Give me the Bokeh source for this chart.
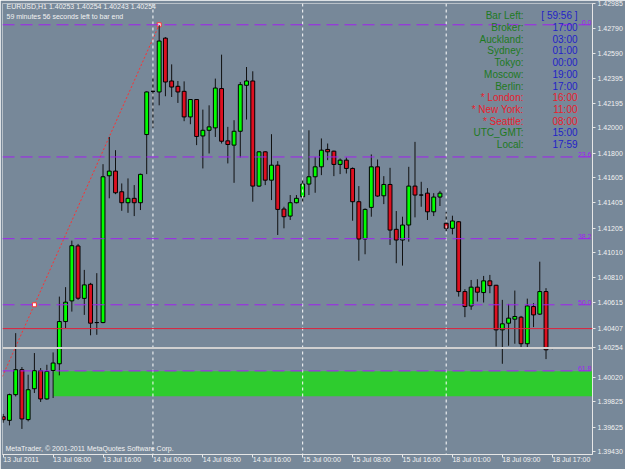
from bokeh.plotting import figure
from bokeh.models import FixedTicker, Label, Span, PrintfTickFormatter, ColumnDataSource
from bokeh.embed import file_html
from bokeh.resources import INLINE

# ---------------- data ----------------
bar_index = list(range(89))
opens = [1.39708, 1.39679, 1.39883, 1.40081, 1.39685, 1.39930, 1.40073, 1.39849, 1.40075, 1.40128,
         1.40463, 1.40627, 1.41063, 1.40647, 1.40759, 1.40455, 1.40455, 1.41620, 1.41657, 1.41493,
         1.41406, 1.41441, 1.41406, 1.41947, 1.42290, 1.42285, 1.42712, 1.42372, 1.42330, 1.42290,
         1.42087, 1.42225, 1.41936, 1.41981, 1.42000, 1.42312, 1.41897, 1.41863, 1.41973, 1.42338,
         1.42372, 1.41538, 1.41810, 1.41585, 1.41704, 1.41356, 1.41300, 1.41406, 1.41453, 1.41554,
         1.41612, 1.41691, 1.41829, 1.41815, 1.41710, 1.41744, 1.41678, 1.41414, 1.41118, 1.41369,
         1.41691, 1.41461, 1.41551, 1.41195, 1.41110, 1.41229, 1.41538, 1.41467, 1.41482, 1.41334,
         1.41451, 1.41243, 1.41203, 1.41255, 1.40701, 1.40587, 1.40736, 1.40693, 1.40786, 1.40751,
         1.40397, 1.40450, 1.40482, 1.40498, 1.40287, 1.40582, 1.40522, 1.40701, 1.40253]
highs = [1.39730, 1.39891, 1.40371, 1.40102, 1.40041, 1.40213, 1.40094, 1.40120, 1.40218, 1.40661,
         1.40736, 1.41105, 1.41079, 1.40873, 1.40770, 1.40847, 1.41712, 1.41928, 1.41823, 1.41559,
         1.41599, 1.41546, 1.41637, 1.42290, 1.42409, 1.42818, 1.42720, 1.42504, 1.42372, 1.42369,
         1.42227, 1.42227, 1.42145, 1.42179, 1.42391, 1.42581, 1.42008, 1.42061, 1.42364, 1.42483,
         1.42449, 1.41815, 1.41815, 1.41950, 1.41736, 1.41374, 1.41467, 1.41467, 1.41599, 1.41981,
         1.41770, 1.41916, 1.41876, 1.41819, 1.41757, 1.41765, 1.41686, 1.41538, 1.41361, 1.41789,
         1.41749, 1.41617, 1.41683, 1.41340, 1.41295, 1.41691, 1.41889, 1.41572, 1.41522, 1.41482,
         1.41500, 1.41332, 1.41303, 1.41261, 1.40720, 1.40793, 1.40799, 1.40825, 1.40833, 1.40754,
         1.40635, 1.40603, 1.40709, 1.40508, 1.40645, 1.40609, 1.40938, 1.40728, 1.40254]
lows = [1.39660, 1.39639, 1.39869, 1.39611, 1.39671, 1.39896, 1.39825, 1.39843, 1.39856, 1.40036,
        1.40411, 1.40542, 1.40635, 1.40516, 1.40354, 1.40358, 1.40450, 1.41441, 1.41474, 1.41342,
        1.41326, 1.41300, 1.41348, 1.41633, 1.42000, 1.42179, 1.42251, 1.42245, 1.42198, 1.42053,
        1.42029, 1.41863, 1.41678, 1.41797, 1.41928, 1.41876, 1.41718, 1.41564, 1.41765, 1.42066,
        1.41414, 1.41532, 1.41546, 1.41427, 1.41150, 1.41203, 1.41269, 1.41401, 1.41401, 1.41467,
        1.41485, 1.41625, 1.41744, 1.41617, 1.41633, 1.41638, 1.41263, 1.40946, 1.40997, 1.41295,
        1.41453, 1.41395, 1.41071, 1.40926, 1.40907, 1.41097, 1.41290, 1.41374, 1.41269, 1.41300,
        1.41380, 1.41181, 1.41155, 1.40661, 1.40498, 1.40556, 1.40622, 1.40614, 1.40688, 1.40265,
        1.40128, 1.40271, 1.40287, 1.40245, 1.40245, 1.40419, 1.40516, 1.40165, 1.40243]
closes = [1.39684, 1.39883, 1.40081, 1.39690, 1.39922, 1.40073, 1.39849, 1.40067, 1.40134, 1.40463,
          1.40617, 1.41065, 1.40648, 1.40754, 1.40450, 1.40455, 1.41612, 1.41657, 1.41485, 1.41406,
          1.41441, 1.41406, 1.41631, 1.42285, 1.42290, 1.42689, 1.42364, 1.42324, 1.42285, 1.42087,
          1.42225, 1.41932, 1.41981, 1.42008, 1.42316, 1.41894, 1.41868, 1.41973, 1.42343, 1.42372,
          1.41538, 1.41810, 1.41585, 1.41704, 1.41353, 1.41295, 1.41406, 1.41441, 1.41554, 1.41612,
          1.41691, 1.41823, 1.41810, 1.41710, 1.41744, 1.41678, 1.41414, 1.41118, 1.41353, 1.41691,
          1.41459, 1.41551, 1.41189, 1.41110, 1.41229, 1.41538, 1.41467, 1.41467, 1.41334, 1.41451,
          1.41482, 1.41203, 1.41261, 1.40701, 1.40582, 1.40736, 1.40696, 1.40786, 1.40748, 1.40397,
          1.40445, 1.40490, 1.40503, 1.40287, 1.40587, 1.40516, 1.40701, 1.40239, 1.40254]

x_tick_bars = [0, 8, 16, 24, 32, 40, 48, 56, 64, 72, 80, 88]
x_tick_labels = ["13 Jul 2011", "13 Jul 08:00", "13 Jul 16:00", "14 Jul 00:00", "14 Jul 08:00",
                 "14 Jul 16:00", "15 Jul 00:00", "15 Jul 08:00", "15 Jul 16:00", "18 Jul 01:00",
                 "18 Jul 09:00", "18 Jul 17:00"]
y_ticks = [1.42985, 1.42790, 1.42590, 1.42395, 1.42195, 1.42000, 1.41800, 1.41605, 1.41405,
           1.41205, 1.41010, 1.40810, 1.40615, 1.40407, 1.40254, 1.40020, 1.39825, 1.39625,
           1.39430]
day_separators = [24, 48, 71]

fib_levels = [0.0, 23.6, 38.2, 50.0, 61.8]
fib_high_bar, fib_high = 25, 1.42818
fib_low_bar, fib_low = -15, 1.38374

zone_start_bar = 8
zone_top, zone_bottom = 1.40068, 1.39870
red_line_price = 1.40407
bid_price = 1.40254

header_1 = "EURUSD,H1  1.40253 1.40254 1.40243 1.40254"
header_2 = "59 minutes 56 seconds left to bar end"
copyright_text = "MetaTrader, \u00a9 2001-2011 MetaQuotes Software Corp."

clock_names = ["Bar Left:", "Broker:", "Auckland:", "Sydney:", "Tokyo:", "Moscow:", "Berlin:",
               "* London:", "* New York:", "* Seattle:", "UTC_GMT:", "Local:"]
clock_values = ["[ 59:56 ]", "17:00", "03:00", "01:00", "00:00", "19:00", "17:00",
                "16:00", "11:00", "08:00", "15:00", "17:59"]
clock_marked = [False, False, False, False, False, False, False, True, True, True, False, False]

# ---------------- figure ----------------
BG = "#778899"
X0, X1 = -0.112, 94.45
Y0, Y1 = 1.39408, 1.42987

p = figure(width=625, height=469, x_range=(X0, X1), y_range=(Y0, Y1),
           y_axis_location="right", output_backend="svg", toolbar_location=None,
           min_border_left=2, min_border_right=32, min_border_top=3, min_border_bottom=14,
           background_fill_color=BG, border_fill_color=BG, outline_line_color="#B8C0C8")
p.grid.visible = False

AX = "#E6E6E6"
LBL = "#F2F2F2"
FONT = "Liberation Sans"
for ax in (p.xaxis[0], p.yaxis[0]):
    ax.axis_line_color = AX
    ax.major_tick_line_color = AX
    ax.minor_tick_line_color = None
    ax.major_tick_in = 0
    ax.major_tick_out = 3
    ax.major_label_text_color = LBL
    ax.major_label_text_font = FONT
    ax.major_label_text_font_size = "7px"
    ax.major_label_standoff = 2

p.yaxis.ticker = FixedTicker(ticks=y_ticks)
p.yaxis.formatter = PrintfTickFormatter(format="%.5f")
p.xaxis.ticker = FixedTicker(ticks=x_tick_bars)
p.xaxis.major_label_overrides = {b: t for b, t in zip(x_tick_bars, x_tick_labels)}
# MetaTrader writes the time labels to the right of each tick
p.xaxis.major_label_orientation = -1e-6
p.xaxis.major_label_standoff = 2

# green zone
p.quad(left=[zone_start_bar], right=[X1 + 5], top=[zone_top], bottom=[zone_bottom],
       fill_color="#2ECC2E", line_color=None)

# day separators
for b in day_separators:
    p.add_layout(Span(location=b, dimension="height", line_color="#FFFFFF",
                      line_dash="3 3", line_width=1))

# fibo levels
rng = fib_high - fib_low
fib_prices = [fib_high - lv / 100.0 * rng for lv in fib_levels]
for lv, pr in zip(fib_levels, fib_prices):
    p.add_layout(Span(location=pr, dimension="width", line_color="#A020F0",
                      line_dash="12 6", line_width=1))
    p.add_layout(Label(x=589, y=pr, x_units="screen", y_units="data", text=f"{lv:.1f}",
                       text_align="right", text_baseline="bottom", text_color="#A020F0",
                       text_font=FONT, text_font_size="7px"))

# fibo trend line (dotted red)
p.line(x=[fib_low_bar, fib_high_bar], y=[fib_low, fib_high], line_color="#FF3030",
       line_dash="2 2", line_width=1)
p.scatter(x=[fib_high_bar, (fib_high_bar + fib_low_bar) / 2], y=[fib_high, (fib_high + fib_low) / 2],
          marker="square", size=4, fill_color="#FFFFFF", line_color="#FF3030")

# horizontal lines
p.add_layout(Span(location=red_line_price, dimension="width", line_color="#E0203A", line_width=1))
p.add_layout(Span(location=bid_price, dimension="width", line_color="#D0D0D0", line_width=2))

# candles
up_col, dn_col = "#00FF00", "#DD1020"
colors = [up_col if c > o else (dn_col if c < o else "#000000") for o, c in zip(opens, closes)]
src = ColumnDataSource(dict(x=bar_index, o=opens, h=highs, l=lows, c=closes,
                            top=[max(o, c) for o, c in zip(opens, closes)],
                            bot=[min(o, c) for o, c in zip(opens, closes)],
                            col=colors))
p.segment(x0="x", y0="l", x1="x", y1="h", source=src, line_color="#101010", line_width=1)
p.vbar(x="x", top="top", bottom="bot", width=0.62, source=src, fill_color="col",
       line_color="#000000", line_width=1)

# texts
def cy(canvas_y):
    return 455 - canvas_y

p.add_layout(Label(x=4, y=cy(7), x_units="screen", y_units="screen", text=header_1,
                   text_baseline="middle", text_color=LBL, text_font=FONT, text_font_size="7px"))
p.add_layout(Label(x=4, y=cy(16.5), x_units="screen", y_units="screen", text=header_2,
                   text_baseline="middle", text_color=LBL, text_font=FONT, text_font_size="7px"))
p.add_layout(Label(x=3, y=cy(449), x_units="screen", y_units="screen", text=copyright_text,
                   text_baseline="middle", text_color=LBL, text_font=FONT, text_font_size="7px"))

for k, (nm, val, mk) in enumerate(zip(clock_names, clock_values, clock_marked)):
    yy = cy(16.2 + 11.72 * k)
    p.add_layout(Label(x=521, y=yy, x_units="screen", y_units="screen", text=nm,
                       text_align="right", text_baseline="middle",
                       text_color="#E8202C" if mk else "#1E7A1E",
                       text_font=FONT, text_font_size="10px"))
    p.add_layout(Label(x=575, y=yy, x_units="screen", y_units="screen", text=val,
                       text_align="right", text_baseline="middle",
                       text_color="#E8202C" if mk else "#2323C8",
                       text_font=FONT, text_font_size="10px"))

open("out.html", "w").write(file_html(p, INLINE))
